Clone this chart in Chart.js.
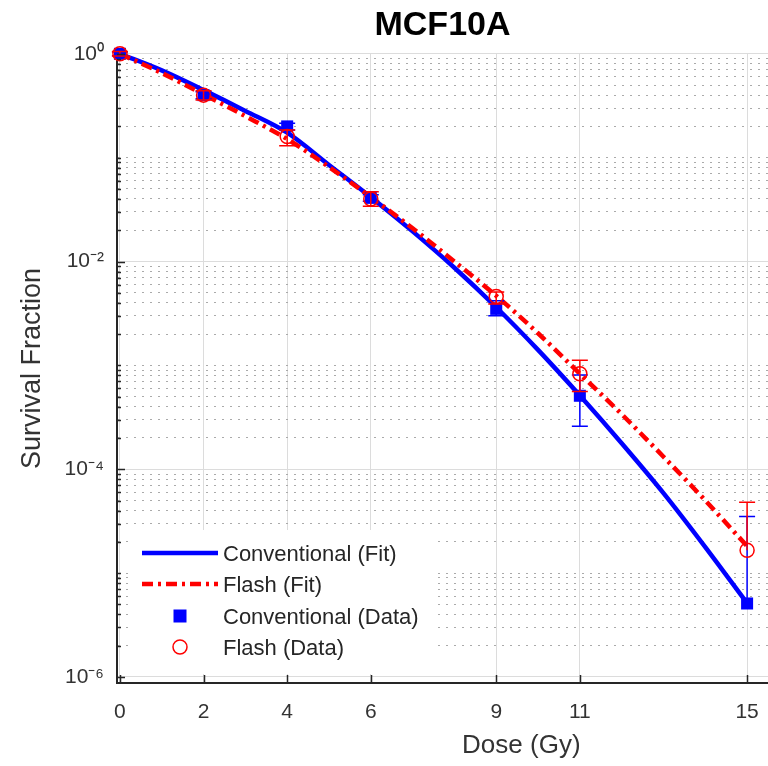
<!DOCTYPE html>
<html>
<head>
<meta charset="utf-8">
<title>MCF10A survival</title>
<script src="https://cdn.jsdelivr.net/npm/chart.js@4.4.1/dist/chart.umd.min.js"></script>
<style>
  html, body { margin: 0; padding: 0; background: #fff; overflow: hidden; }
  #wrap { width: 768px; height: 766px; }
  canvas { display: block; }
</style>
</head>
<body>
<div id="wrap"><canvas id="survivalChart"></canvas></div>
<script>
// Fit curves, every 1 Gy
const fitDose = [0, 1, 2, 3, 4, 5, 6, 7, 8, 9, 10, 11, 12, 13, 14, 15];
const convFit = [1, 0.692, 0.447, 0.282, 0.174, 0.0851, 0.0417, 0.0195, 0.00871, 0.00363,
                 0.00141, 0.000513, 0.000178, 0.0000589, 0.0000178, 0.00000513];
const flashFit = [1, 0.653, 0.407, 0.251, 0.151, 0.0813, 0.0417, 0.0209, 0.0100, 0.00468,
                  0.00204, 0.000832, 0.000339, 0.000132, 0.0000501, 0.0000182];

// Measured points with error bars
const doses = [0, 2, 4, 6, 9, 11, 15];
const convData = [1, 0.40, 0.20, 0.041, 0.0035, 0.00051, 0.0000051];
const convErrHi = [1.04, 0.43, 0.215, 0.044, 0.0042, 0.00081, 0.000035];
const convErrLo = [0.96, 0.37, 0.185, 0.038, 0.0030, 0.00026, 0.0000051];
const flashData = [1, 0.40, 0.16, 0.040, 0.0046, 0.00083, 0.0000166];
const flashErrHi = [1.05, 0.44, 0.185, 0.047, 0.0051, 0.00112, 0.000048];
const flashErrLo = [0.95, 0.36, 0.13, 0.034, 0.0039, 0.00056, 0.0000166];

// Axis ticks
const xTicks = [0, 2, 4, 6, 9, 11, 15];
const yMajor = [1, 1e-2, 1e-4, 1e-6];
const yMajorLabels = ['10⁰', '10⁻²', '10⁻⁴', '10⁻⁶'];

const FONT = "'Liberation Sans', Arial, sans-serif";
const BLUE = '#0000ff';
const RED = '#ff0000';
const AXIS = '#262626';
const TEXT = '#333';

const yTickValues = [];
for (let n = -6; n <= 0; n++) {
    for (let k = 1; k <= 9; k++) {
        const v = k * Math.pow(10, n);
        if (v <= 1.0000001) yTickValues.push(v);
    }
}

function majorIndex(v) {
    return yMajor.findIndex(m => Math.abs(Math.log10(v) - Math.log10(m)) < 1e-6);
}

const toPoints = (xs, ys) => xs.map((x, i) => ({ x: x, y: ys[i] }));

// error bars for the data datasets, keyed by dataset index
const errorSets = {
    2: { hi: convErrHi, lo: convErrLo },
    3: { hi: flashErrHi, lo: flashErrLo }
};

const errorBars = {
    id: 'errorBars',
    afterDatasetDraw(chart, args) {
        const err = errorSets[args.index];
        if (!err) return;
        const ds = chart.data.datasets[args.index];
        const { ctx, scales: { x, y } } = chart;
        const cap = 8;
        ctx.save();
        ctx.strokeStyle = ds.pointBorderColor;
        ctx.lineWidth = 1.5;
        ds.data.forEach((p, i) => {
            const px = x.getPixelForValue(p.x);
            const hi = y.getPixelForValue(err.hi[i]);
            const lo = y.getPixelForValue(err.lo[i]);
            ctx.beginPath();
            ctx.moveTo(px, hi);
            ctx.lineTo(px, lo);
            ctx.moveTo(px - cap, hi);
            ctx.lineTo(px + cap, hi);
            if (err.lo[i] < p.y) {
                ctx.moveTo(px - cap, lo);
                ctx.lineTo(px + cap, lo);
            }
            ctx.stroke();
        });
        ctx.restore();
    }
};

// MATLAB style legend inside the axes, inward tick marks and the x label
const insideLegend = {
    id: 'insideLegend',
    afterDatasetsDraw(chart) {
        const { ctx, chartArea: area, scales: { x, y } } = chart;
        const ds = chart.data.datasets;
        const boxLeft = area.left + 14;
        const boxTop = area.bottom - 153;
        ctx.save();
        ctx.fillStyle = '#fff';
        ctx.fillRect(boxLeft, boxTop, 301, 144);

        const rowY = [boxTop + 23, boxTop + 54, boxTop + 86, boxTop + 117];
        const lineX0 = boxLeft + 11;
        const lineX1 = boxLeft + 87;
        const symX = boxLeft + 49;
        const textX = boxLeft + 92;

        // fit lines
        [0, 1].forEach(i => {
            ctx.beginPath();
            ctx.strokeStyle = ds[i].borderColor;
            ctx.lineWidth = ds[i].borderWidth;
            ctx.setLineDash(ds[i].borderDash || []);
            ctx.moveTo(lineX0, rowY[i]);
            ctx.lineTo(lineX1, rowY[i]);
            ctx.stroke();
        });
        ctx.setLineDash([]);
        // square marker
        ctx.fillStyle = BLUE;
        ctx.fillRect(symX - 6.5, rowY[2] - 6.5, 13, 13);
        // circle marker
        ctx.beginPath();
        ctx.strokeStyle = RED;
        ctx.lineWidth = 1.5;
        ctx.arc(symX, rowY[3], 7, 0, Math.PI * 2);
        ctx.stroke();

        ctx.fillStyle = '#262626';
        ctx.font = '22px ' + FONT;
        ctx.textBaseline = 'middle';
        ctx.textAlign = 'left';
        ds.forEach((d, i) => ctx.fillText(d.label, textX, rowY[i] + 2));

        // tick marks pointing into the axes
        ctx.strokeStyle = AXIS;
        ctx.lineWidth = 1.5;
        ctx.beginPath();
        yTickValues.forEach(v => {
            const py = Math.round(y.getPixelForValue(v)) + 0.5;
            const len = majorIndex(v) >= 0 ? 8 : 4;
            ctx.moveTo(area.left, py);
            ctx.lineTo(area.left + len, py);
        });
        xTicks.forEach(v => {
            const px = Math.round(x.getPixelForValue(v)) + 0.5;
            ctx.moveTo(px, area.bottom);
            ctx.lineTo(px, area.bottom - 8);
        });
        ctx.stroke();

        // x label sits off-centre in the original figure
        ctx.fillStyle = TEXT;
        ctx.font = '26px ' + FONT;
        ctx.textAlign = 'center';
        ctx.textBaseline = 'middle';
        ctx.fillText('Dose (Gy)', x.getPixelForValue(9.6), area.bottom + 63);
        ctx.restore();
    }
};

const canvas = document.getElementById('survivalChart');
canvas.width = 768;
canvas.height = 766;

new Chart(canvas, {
    type: 'line',
    data: {
        datasets: [{
            label: 'Conventional (Fit)',
            data: toPoints(fitDose, convFit),
            borderColor: BLUE,
            borderWidth: 4.5,
            pointRadius: 0,
            cubicInterpolationMode: 'monotone',
            clip: false,
            order: 4
        }, {
            label: 'Flash (Fit)',
            data: toPoints(fitDose, flashFit),
            borderColor: RED,
            borderWidth: 4.5,
            borderDash: [11, 5, 3, 5],
            pointRadius: 0,
            cubicInterpolationMode: 'monotone',
            clip: false,
            order: 3
        }, {
            label: 'Conventional (Data)',
            data: toPoints(doses, convData),
            showLine: false,
            pointStyle: 'rect',
            pointRadius: 8.5,
            pointBackgroundColor: BLUE,
            pointBorderColor: BLUE,
            pointBorderWidth: 0,
            clip: false,
            order: 2
        }, {
            label: 'Flash (Data)',
            data: toPoints(doses, flashData),
            showLine: false,
            pointStyle: 'circle',
            pointRadius: 7,
            pointBackgroundColor: 'rgba(0,0,0,0)',
            pointBorderColor: RED,
            pointBorderWidth: 1.5,
            clip: false,
            order: 1
        }]
    },
    options: {
        responsive: false,
        animation: false,
        layout: { padding: 0, autoPadding: false },
        plugins: {
            legend: { display: false },
            tooltip: { enabled: false },
            title: {
                display: true,
                fullSize: false,
                text: 'MCF10A',
                color: '#000',
                font: { family: FONT, size: 34, weight: 'bold' },
                padding: { top: 5, bottom: 8 }
            }
        },
        scales: {
            x: {
                type: 'linear',
                min: -0.07,
                max: 15.5,
                afterBuildTicks: s => { s.ticks = xTicks.map(v => ({ value: v })); },
                afterFit: s => {
                    s.height = 83;
                    s.paddingLeft = 0;
                    s.paddingRight = 0;
                },
                grid: { color: '#dcdcdc', lineWidth: 1, drawTicks: false },
                border: { color: AXIS, width: 2 },
                ticks: {
                    color: TEXT,
                    font: { family: FONT, size: 21 },
                    padding: 17,
                    autoSkip: false,
                    maxRotation: 0,
                    callback: v => String(v)
                }
            },
            y: {
                type: 'logarithmic',
                min: 8.75e-7,
                max: 1,
                afterBuildTicks: s => { s.ticks = yTickValues.map(v => ({ value: v })); },
                afterFit: s => { s.width = 117; },
                grid: {
                    drawTicks: false,
                    lineWidth: 1,
                    color: ctx => (ctx.tick && majorIndex(ctx.tick.value) >= 0) ? '#dcdcdc' : '#aaaaaa'
                },
                border: {
                    color: AXIS,
                    width: 2,
                    dash: ctx => (ctx.tick && majorIndex(ctx.tick.value) < 0) ? [2, 6] : []
                },
                ticks: {
                    color: TEXT,
                    font: { family: FONT, size: 21 },
                    padding: 13,
                    autoSkip: false,
                    callback: v => {
                        const i = majorIndex(v);
                        return i >= 0 ? yMajorLabels[i] : '';
                    }
                },
                title: {
                    display: true,
                    text: 'Survival Fraction',
                    color: TEXT,
                    font: { family: FONT, size: 27 },
                    padding: { top: 16, bottom: 0 }
                }
            }
        }
    },
    plugins: [errorBars, insideLegend]
});
</script>
</body>
</html>
